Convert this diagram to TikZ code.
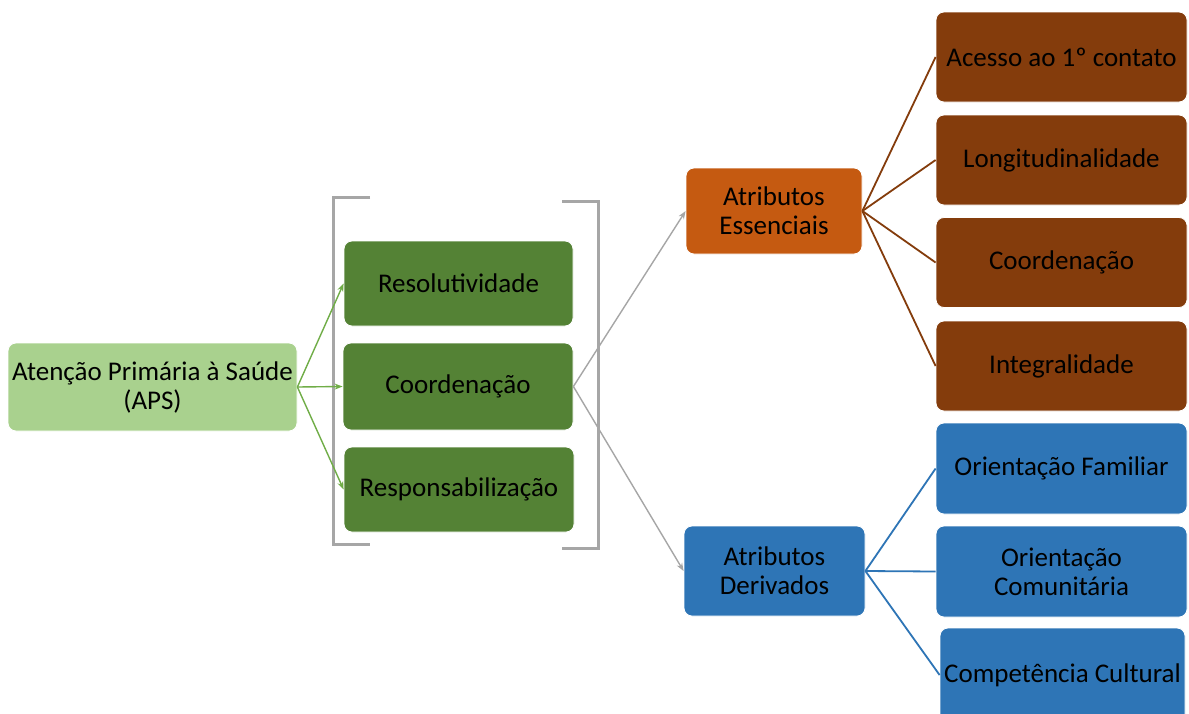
\documentclass[tikz,border=0pt]{standalone}
\usepackage{fontspec}
\setmainfont{Carlito}
\usetikzlibrary{arrows.meta}
\definecolor{apsgreen}{HTML}{A9D18E}
\definecolor{dkgreen}{HTML}{548235}
\definecolor{arrgreen}{HTML}{70AD47}
\definecolor{orng}{HTML}{C55A11}
\definecolor{brwn}{HTML}{843C0C}
\definecolor{blu}{HTML}{2E75B6}
\definecolor{gry}{HTML}{A6A6A6}
\tikzset{
  box/.style={draw=white, line width=0.8pt, rounded corners=8pt, inner sep=2pt, align=center, text=black,
    font=\fontsize{27}{29}\selectfont},
  garrow/.style={draw=arrgreen, line width=1.4pt, -{Stealth[length=8pt,width=6pt]}},
  grarrow/.style={draw=gry, line width=1.4pt, -{Stealth[length=8pt,width=6pt]}},
  bline/.style={draw=brwn, line width=1.8pt},
  uline/.style={draw=blu, line width=1.8pt},
  brk/.style={draw=gry, line width=3pt},
}
\begin{document}
\begin{tikzpicture}[x=1pt,y=-1pt]
\useasboundingbox (0,0) rectangle (1189,713);
\fill[white] (0,0) rectangle (1189,713);
% brackets
\draw[brk] (370,197) -- (333,197) -- (333,544) -- (370,544);
\draw[brk] (562,201) -- (598,201) -- (598,548) -- (562,548);
% nodes
\node[box, fill=apsgreen, minimum width=289pt, minimum height=88pt] (aps) at (152.5,387) {Atenção Primária à Saúde\\(APS)};
\node[box, fill=dkgreen, minimum width=229pt, minimum height=85pt] (res) at (458.5,283.5) {Resolutividade};
\node[box, fill=dkgreen, minimum width=230pt, minimum height=87pt] (coo) at (458,386.5) {Coordenação};
\node[box, fill=dkgreen, minimum width=230pt, minimum height=85pt] (resp) at (459,489.5) {Responsabilização};
\node[box, fill=orng, minimum width=176pt, minimum height=86pt] (ae) at (774,211) {Atributos\\Essenciais};
\node[box, fill=blu, minimum width=181pt, minimum height=90pt] (ad) at (774.5,571) {Atributos\\Derivados};
\node[box, fill=brwn, minimum width=251pt, minimum height=90pt] (b1) at (1061.5,57) {Acesso ao 1º contato};
\node[box, fill=brwn, minimum width=251pt, minimum height=90pt] (b2) at (1061.5,160) {Longitudinalidade};
\node[box, fill=brwn, minimum width=251pt, minimum height=90pt] (b3) at (1061.5,262.5) {Coordenação};
\node[box, fill=brwn, minimum width=251pt, minimum height=90pt] (b4) at (1061.5,366) {Integralidade};
\node[box, fill=blu, minimum width=251pt, minimum height=91pt] (u1) at (1061.5,468.5) {Orientação Familiar};
\node[box, fill=blu, minimum width=251pt, minimum height=91pt] (u2) at (1061.5,571.5) {Orientação\\Comunitária};
\node[box, fill=blu, minimum width=245pt, minimum height=94pt] (u3) at (1062.5,675) {Competência Cultural};
% connectors
\draw[garrow] (aps.east) -- (res.west);
\draw[garrow] (aps.east) -- (coo.west);
\draw[garrow] (aps.east) -- (resp.west);
\draw[grarrow] (coo.east) -- (ae.west);
\draw[grarrow] (coo.east) -- (ad.west);
\foreach \t in {b1,b2,b3,b4} \draw[bline] (ae.east) -- (\t.west);
\foreach \t in {u1,u2,u3} \draw[uline] (ad.east) -- (\t.west);
\end{tikzpicture}
\end{document}
